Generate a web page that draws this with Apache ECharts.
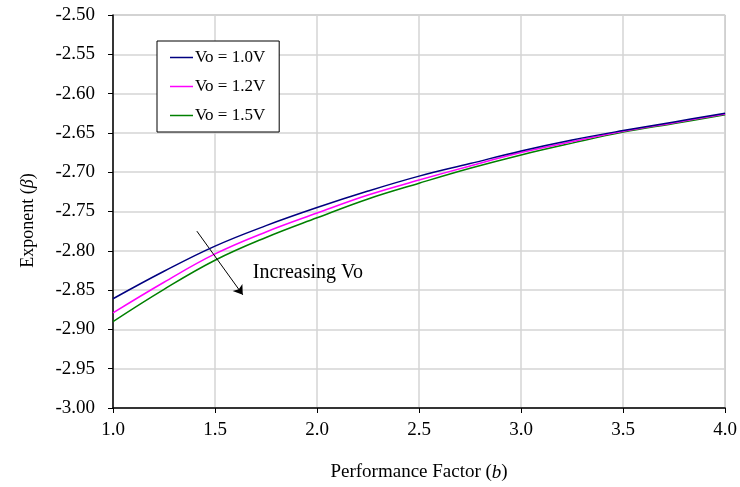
<!DOCTYPE html>
<html>
<head>
<meta charset="utf-8">
<script src="https://cdn.jsdelivr.net/npm/echarts@6/dist/echarts.min.js"></script>
<style>
  html, body { margin: 0; padding: 0; background: #fff; }
  #chart { width: 740px; height: 487px; }
</style>
</head>
<body>
<div id="chart"></div>
<script>
const xValues = [1.0, 1.25, 1.5, 1.75, 2.0, 2.25, 2.5, 2.75, 3.0, 3.25, 3.5, 3.75, 4.0]
const vo10 = [-2.861, -2.826, -2.794, -2.768, -2.745, -2.724, -2.705, -2.689, -2.673, -2.659, -2.647, -2.636, -2.625]
const vo12 = [-2.879, -2.840, -2.804, -2.776, -2.752, -2.729, -2.710, -2.692, -2.675, -2.661, -2.648, -2.637, -2.626]
const vo15 = [-2.890, -2.849, -2.812, -2.783, -2.758, -2.734, -2.714, -2.695, -2.678, -2.663, -2.649, -2.638, -2.627]
const seriesNames = ['Vo = 1.0V', 'Vo = 1.2V', 'Vo = 1.5V']
const seriesColors = ['#000080', '#ff00ff', '#008000']

// annotation arrow, in data units
const arrowStart = [1.411, -2.775]
const arrowEnd = [1.636, -2.856]
const noteText = 'Increasing Vo'
const notePos = [1.685, -2.8295]

const font = "'Liberation Serif', 'Times New Roman', serif"
const chart = echarts.init(document.getElementById('chart'))

const pairs = (ys) => xValues.map((x, i) => [x, ys[i]])

const series = [vo10, vo12, vo15].map((ys, i) => ({
  name: seriesNames[i],
  type: 'line',
  data: pairs(ys),
  symbol: 'none',
  smooth: 0.4,
  color: seriesColors[i],
  lineStyle: { width: 1.5, color: seriesColors[i] },
  z: 5 - i
}))

series[0].markLine = {
  silent: true,
  symbol: ['none', 'arrow'],
  symbolSize: 9,
  label: { show: false },
  lineStyle: { color: '#000', width: 1, type: 'solid' },
  data: [[{ coord: arrowStart }, { coord: arrowEnd }]]
}

chart.setOption({
  animation: false,
  textStyle: { fontFamily: font },
  grid: {
    left: 113, right: 11, top: 15, bottom: 75,
    show: true, borderColor: '#a0a0a0', borderWidth: 1
  },
  legend: {
    orient: 'vertical',
    left: 157, top: 41,
    padding: [8, 14, 8, 13],
    itemGap: 12,
    icon: 'rect',
    itemWidth: 23, itemHeight: 1.5,
    backgroundColor: '#fff',
    borderColor: '#000', borderWidth: 1,
    textStyle: { fontFamily: font, fontSize: 17, color: '#000', padding: [0, 0, 0, -3], lineHeight: 17 },
    data: seriesNames
  },
  xAxis: {
    type: 'value',
    min: 1, max: 4, interval: 0.5,
    name: 'Performance Factor ({i|b})',
    nameLocation: 'middle',
    nameGap: 55,
    nameTextStyle: {
      fontFamily: font, fontSize: 19, color: '#000',
      rich: { i: { fontFamily: font, fontSize: 19, fontStyle: 'italic', color: '#000' } }
    },
    axisLine: { lineStyle: { color: '#000', width: 1.5 } },
    axisTick: { show: true, length: 5, lineStyle: { color: '#000' } },
    axisLabel: { color: '#000', fontSize: 19, fontFamily: font, margin: 13, formatter: (v) => v.toFixed(1) },
    splitLine: { show: true, lineStyle: { color: '#d4d4d4', width: 1.5 } }
  },
  yAxis: {
    type: 'value',
    min: -3, max: -2.5, interval: 0.05,
    name: 'Exponent ({i|β})',
    nameLocation: 'middle',
    nameGap: 76,
    nameTextStyle: {
      fontFamily: font, fontSize: 18, color: '#000',
      padding: [0, 18, 0, 0],
      rich: { i: { fontFamily: font, fontSize: 18, fontStyle: 'italic', color: '#000' } }
    },
    axisLine: { show: true, lineStyle: { color: '#000', width: 1.5 } },
    axisTick: { show: true, length: 5, lineStyle: { color: '#000' } },
    axisLabel: { color: '#000', fontSize: 19, fontFamily: font, margin: 18, formatter: (v) => v.toFixed(2) },
    splitLine: { show: true, lineStyle: { color: '#d4d4d4', width: 1.5 } }
  },
  series
})

const p = chart.convertToPixel({ gridIndex: 0 }, notePos)
chart.setOption({
  graphic: [{
    type: 'text',
    left: p[0], top: p[1] - 11,
    style: { text: noteText, fontFamily: font, fontSize: 20, fill: '#000' },
    z: 10
  }]
})
</script>
</body>
</html>
